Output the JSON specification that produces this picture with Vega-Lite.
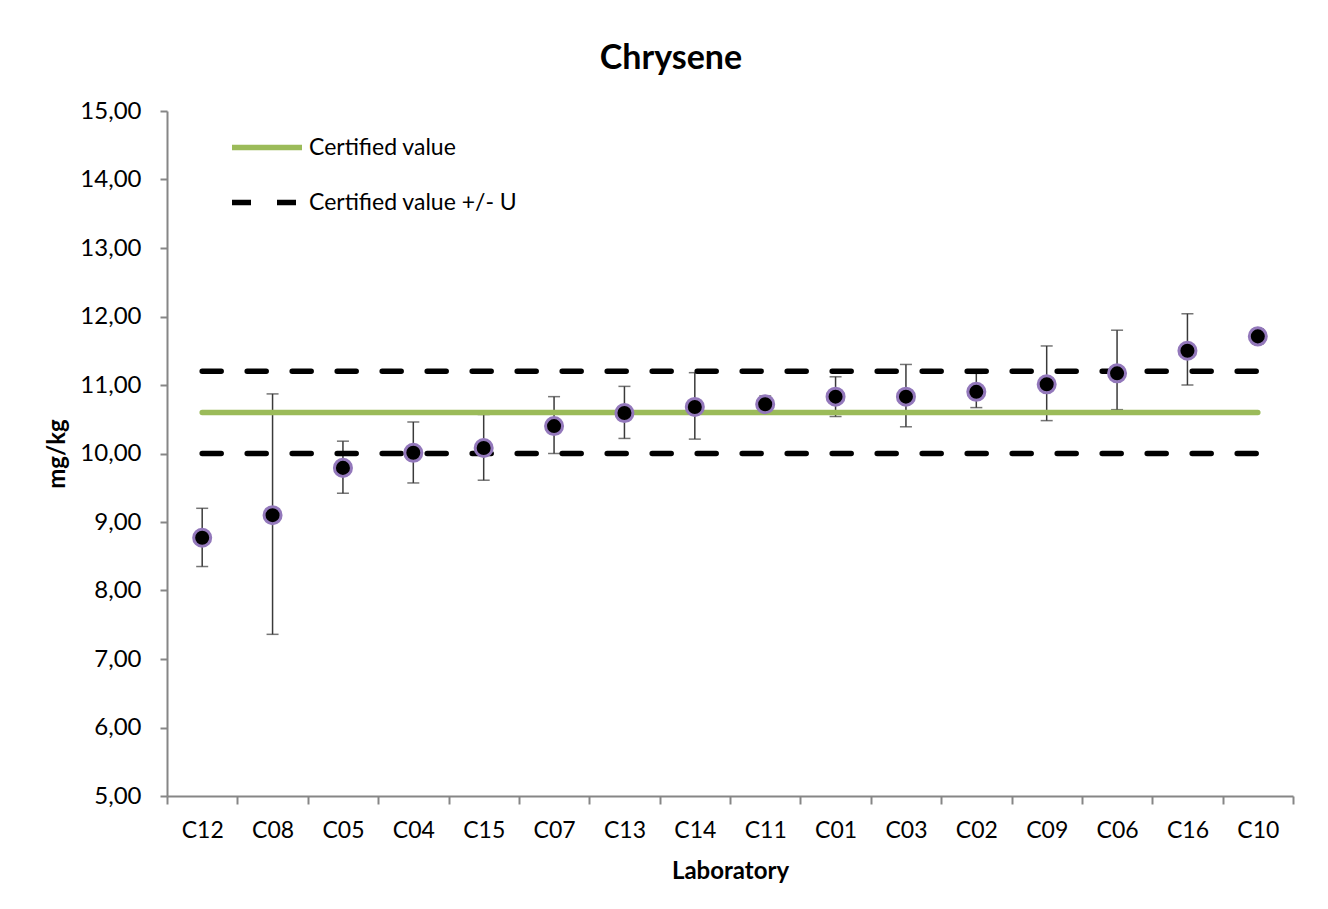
{
  "$schema": "https://vega.github.io/schema/vega-lite/v6.json",
  "width": 1126,
  "height": 685,
  "autosize": {"type": "none"},
  "padding": {"left": 167, "top": 111, "right": 35, "bottom": 113},
  "background": "white",
  "title": {"text": "Chrysene", "font": "Lato", "fontSize": 34, "fontWeight": "bold", "color": "#000000", "anchor": "middle", "dx": -59, "offset": 23},
  "config": {"view": {"stroke": null}, "font": "Lato"},
  "datasets": {
    "labs": [
      {"lab": "C12", "value": 8.77, "lo": 8.35, "hi": 9.20},
      {"lab": "C08", "value": 9.10, "lo": 7.36, "hi": 10.87},
      {"lab": "C05", "value": 9.79, "lo": 9.42, "hi": 10.18},
      {"lab": "C04", "value": 10.01, "lo": 9.57, "hi": 10.46},
      {"lab": "C15", "value": 10.08, "lo": 9.61, "hi": 10.57},
      {"lab": "C07", "value": 10.40, "lo": 10.00, "hi": 10.83},
      {"lab": "C13", "value": 10.59, "lo": 10.22, "hi": 10.98},
      {"lab": "C14", "value": 10.68, "lo": 10.21, "hi": 11.18},
      {"lab": "C11", "value": 10.72, "lo": 10.62, "hi": 10.84},
      {"lab": "C01", "value": 10.83, "lo": 10.54, "hi": 11.12},
      {"lab": "C03", "value": 10.83, "lo": 10.39, "hi": 11.30},
      {"lab": "C02", "value": 10.90, "lo": 10.67, "hi": 11.17},
      {"lab": "C09", "value": 11.01, "lo": 10.48, "hi": 11.57},
      {"lab": "C06", "value": 11.17, "lo": 10.64, "hi": 11.80},
      {"lab": "C16", "value": 11.50, "lo": 11.00, "hi": 12.04},
      {"lab": "C10", "value": 11.71, "lo": 11.60, "hi": 11.82}
    ],
    "ref": [
      {"lab": "C12", "series": "Certified value", "line": "cv", "value": 10.6},
      {"lab": "C10", "series": "Certified value", "line": "cv", "value": 10.6},
      {"lab": "C12", "series": "Certified value +/- U", "line": "upper", "value": 11.2},
      {"lab": "C10", "series": "Certified value +/- U", "line": "upper", "value": 11.2},
      {"lab": "C12", "series": "Certified value +/- U", "line": "lower", "value": 10.0},
      {"lab": "C10", "series": "Certified value +/- U", "line": "lower", "value": 10.0}
    ]
  },
  "layer": [
    {
      "data": {"name": "labs"},
      "mark": {"type": "rule", "color": "#3a3a3a", "strokeWidth": 1.5},
      "encoding": {
        "x": {
          "field": "lab", "type": "nominal", "sort": null, "bandPosition": 0.5,
          "scale": {"type": "band", "paddingInner": 0, "paddingOuter": 0},
          "axis": {
            "title": "Laboratory", "titleFont": "Lato", "titleFontSize": 24, "titleFontWeight": "bold", "titleColor": "#000000", "titlePadding": 17,
            "labelFont": "Lato", "labelFontSize": 23, "labelColor": "#000000", "labelAngle": 0, "labelPadding": 15,
            "tickBand": "extent", "tickSize": 8, "tickWidth": 2, "tickColor": "#868686",
            "domainColor": "#868686", "domainWidth": 2, "grid": false
          }
        },
        "y": {
          "field": "lo", "type": "quantitative",
          "scale": {"domain": [5, 15], "nice": false, "zero": false},
          "axis": {
            "title": "mg/kg", "titleFont": "Lato", "titleFontSize": 24, "titleFontWeight": "bold", "titleColor": "#000000", "titlePadding": 10,
            "values": [5, 6, 7, 8, 9, 10, 11, 12, 13, 14, 15],
            "labelExpr": "replace(format(datum.value, '.2f'), '.', ',')",
            "labelFont": "Lato", "labelFontSize": 24, "labelColor": "#000000", "labelPadding": 19,
            "tickSize": 7, "tickWidth": 2, "tickColor": "#868686",
            "domainColor": "#868686", "domainWidth": 2, "grid": false
          }
        },
        "y2": {"field": "hi"}
      }
    },
    {
      "data": {"name": "labs"},
      "mark": {"type": "tick", "color": "#3a3a3a", "thickness": 1.5, "size": 12, "orient": "horizontal"},
      "encoding": {
        "x": {"field": "lab", "type": "nominal", "sort": null, "bandPosition": 0.5},
        "y": {"field": "hi", "type": "quantitative"}
      }
    },
    {
      "data": {"name": "labs"},
      "mark": {"type": "tick", "color": "#3a3a3a", "thickness": 1.5, "size": 12, "orient": "horizontal"},
      "encoding": {
        "x": {"field": "lab", "type": "nominal", "sort": null, "bandPosition": 0.5},
        "y": {"field": "lo", "type": "quantitative"}
      }
    },
    {
      "data": {"name": "ref"},
      "mark": {"type": "line", "strokeWidth": 5.5, "strokeCap": "round"},
      "encoding": {
        "x": {"field": "lab", "type": "nominal", "sort": null, "bandPosition": 0.5},
        "y": {"field": "value", "type": "quantitative"},
        "detail": {"field": "line"},
        "color": {
          "field": "series", "type": "nominal",
          "scale": {"domain": ["Certified value", "Certified value +/- U"], "range": ["#9BBB59", "#000000"]},
          "legend": {
            "title": null, "orient": "none", "legendX": 62, "legendY": 9,
            "symbolType": "stroke", "symbolSize": 4900, "symbolStrokeWidth": 5.5,
            "labelFont": "Lato", "labelFontSize": 23, "labelColor": "#000000", "labelOffset": 4, "labelLimit": 500,
            "clipHeight": 55, "rowPadding": 0
          }
        },
        "strokeDash": {
          "field": "series", "type": "nominal",
          "scale": {"domain": ["Certified value", "Certified value +/- U"], "range": [[1, 0], [19, 26]]},
          "legend": {
            "title": null, "orient": "none", "legendX": 62, "legendY": 9,
            "symbolType": "stroke", "symbolSize": 4900, "symbolStrokeWidth": 5.5,
            "labelFont": "Lato", "labelFontSize": 23, "labelColor": "#000000", "labelOffset": 4, "labelLimit": 500,
            "clipHeight": 55, "rowPadding": 0
          }
        }
      }
    },
    {
      "data": {"name": "labs"},
      "mark": {"type": "point", "filled": true, "fill": "#000000", "stroke": "#9378bb", "strokeWidth": 3, "strokeOpacity": 1, "opacity": 1, "size": 290, "shape": "circle"},
      "encoding": {
        "x": {"field": "lab", "type": "nominal", "sort": null, "bandPosition": 0.5},
        "y": {"field": "value", "type": "quantitative"}
      }
    }
  ]
}
